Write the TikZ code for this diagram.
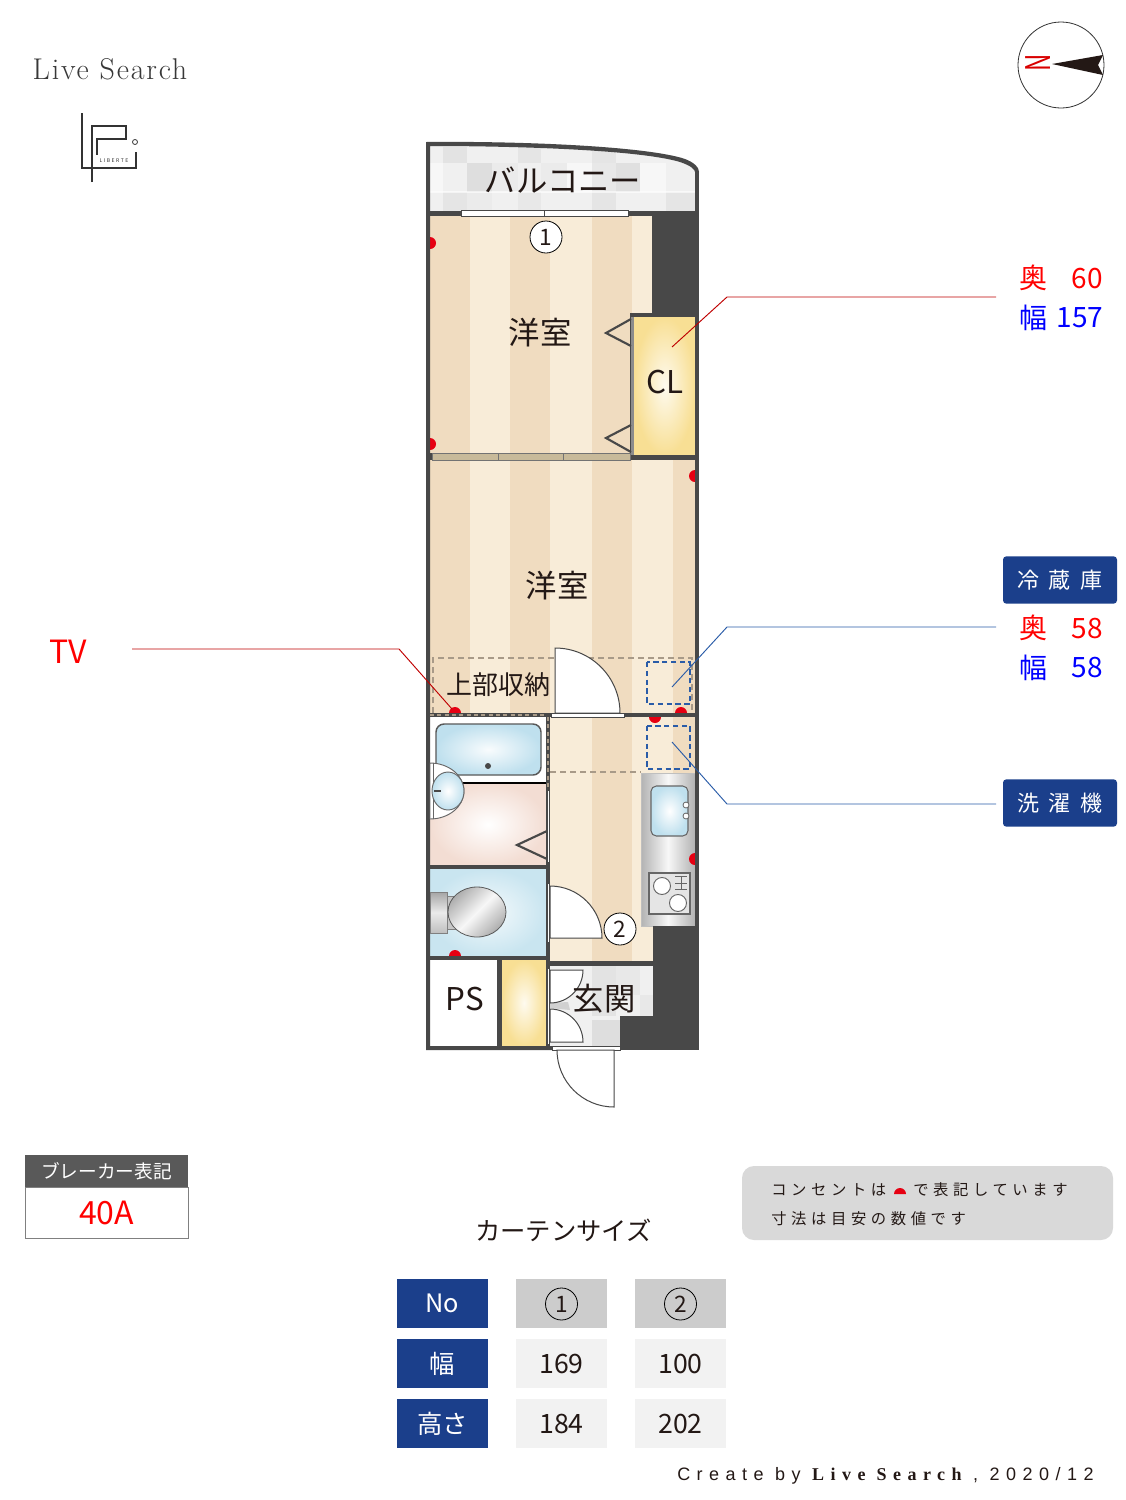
\documentclass[tikz,border=0pt]{standalone}
\usepackage{fontspec}
\setmainfont{Noto Sans CJK JP}
\newfontfamily\lmfont[LetterSpace=6]{Latin Modern Roman}
\newfontfamily\spfont[LetterSpace=30]{Noto Sans CJK JP}
\newfontfamily\spfontc[LetterSpace=45]{Noto Sans CJK JP}
\newfontfamily\footfont[LetterSpace=36]{Liberation Sans}
\newfontfamily\footserif[LetterSpace=36]{Liberation Serif}
\usetikzlibrary{calc}
\definecolor{wall}{HTML}{484848}
\definecolor{fdark}{HTML}{F0DCC0}
\definecolor{flight}{HTML}{F8ECD8}
\definecolor{navy}{HTML}{1B3F8B}
\definecolor{lblue}{HTML}{2A5CA8}
\definecolor{dashbrown}{HTML}{A89A88}
\definecolor{yel}{HTML}{F8DF94}
\definecolor{dotred}{HTML}{E60012}
\definecolor{inktext}{HTML}{231815}
\definecolor{wblue}{HTML}{BFE0EE}
\definecolor{tblue}{HTML}{C9E5F0}
\definecolor{pinkf}{HTML}{F3DDD3}
\definecolor{rail}{HTML}{C8BA9A}
\tikzset{
  lbl/.style={inner sep=0pt,text=inktext,font=\fontsize{23.5pt}{25pt}\selectfont},
  lblsm/.style={lbl,font=\fontsize{19.5pt}{21pt}\selectfont},
  num/.style={circle,draw=black,line width=0.6pt,fill=white,minimum size=24pt,inner sep=0pt,text=inktext,font=\fontsize{17pt}{18pt}\selectfont},
  numt/.style={num,fill=none},
  redtxt/.style={inner sep=0pt,text=red,font=\fontsize{21pt}{23pt}\selectfont},
  bluetxt/.style={inner sep=0pt,text=blue,font=\fontsize{21pt}{23pt}\selectfont},
  tagbox/.style={inner sep=0pt,rounded corners=2.5pt,fill=navy,text=white,minimum width=85.5pt,minimum height=35.5pt,font=\spfontc\fontsize{16.5pt}{18pt}\selectfont},
  thead/.style={inner sep=0pt,fill=navy,text=white,minimum width=68.25pt,minimum height=36.75pt,font=\fontsize{19pt}{21pt}\selectfont},
  tgrey/.style={inner sep=0pt,fill=black!20,minimum width=68.25pt,minimum height=36.75pt},
  tval/.style={inner sep=0pt,fill=black!5,text=inktext,minimum width=68.25pt,minimum height=36.75pt,font=\fontsize{20pt}{22pt}\selectfont},
  redline/.style={draw=red!75!black,line width=0.7pt},
  blueline/.style={draw=lblue,line width=0.7pt},
  swing/.style={fill=white,draw=wall,line width=0.75pt},
  opening/.style={fill=white,draw=wall,line width=0.5pt},
  vee/.style={draw=wall,line width=1.6pt,fill=none,line join=miter},
  bdash/.style={draw=dashbrown,line width=1.6pt,dash pattern=on 4.5pt off 3pt},
  fdash/.style={draw=lblue,line width=1.8pt,dash pattern=on 4pt off 2.6pt},
  metal/.style={draw=black!25,line width=0.6pt,left color=black!30,right color=black!30,middle color=black!3}
}
\newcommand{\tile}[5]{\fill[black!#5] (#1,#3) rectangle (#2,#4);}
\newcommand{\halfdot}[3]{\fill[dotred] (#1,#2) ++(#3:6) arc[start angle=#3,delta angle=180,radius=6] -- cycle;}
\begin{document}
\begin{tikzpicture}[x=0.75pt,y=-0.75pt]
\useasboundingbox (0,0) rectangle (1125,1500);
\fill[white] (0,0) rectangle (1125,1500);

% Floor stripes
\fill[flight] (430,216) rectangle (695,961);
\foreach \a/\b in {430/470,510/550,592/632,673/695}{\fill[fdark] (\a,216) rectangle (\b,961);}
\fill[white] (652,216) rectangle (699,460);

% Balcony
\begin{scope}
\clip (428,146) .. controls (520,146) and (640,150) .. (680,162) .. controls (692,166) and (695,170) .. (695,172) -- (695,212) -- (428,212) -- cycle;
\fill[black!6] (428,140) rectangle (699,212);
\tile{443}{467}{147}{163}{11}
\tile{518}{541}{147}{163}{10}
\tile{592}{616}{147}{163}{10}
\tile{467}{492}{163}{192}{13}
\tile{492}{518}{163}{192}{8}
\tile{541}{567}{163}{192}{8}
\tile{592}{616}{163}{192}{9}
\tile{616}{640}{163}{192}{12}
\tile{443}{467}{192}{211}{10}
\tile{467}{492}{192}{211}{8}
\tile{518}{541}{192}{211}{9}
\tile{592}{616}{192}{211}{10}
\tile{666}{695}{192}{211}{10}
\tile{430}{443}{163}{192}{3}
\tile{567}{592}{163}{192}{3}
\tile{640}{666}{163}{192}{3}
\fill[white,opacity=0.6] (430,191) rectangle (695,193);
\end{scope}

% Closet
\shade[inner color=yel!15,outer color=yel] (634,317) rectangle (695,455);

% Bath
\fill[white] (430,717) rectangle (546,783);
\shade[inner color=white,outer color=pinkf] (430,783) rectangle (546,866);
\draw[black,line width=0.8pt] (460,783) -- (546,783);

% Toilet room
\shade[inner color=white!80!tblue,outer color=tblue] (430,869) rectangle (546,956);

% PS and cabinet
\fill[white] (430,960) rectangle (497,1046);
\shade[inner color=yel!15,outer color=yel] (502,960) rectangle (546,1046);

% Kitchen
\path[metal] (641,773) rectangle (695,926);

% Genkan
\fill[black!6] (550,966) rectangle (653,1016);
\fill[black!6] (550,1016) rectangle (620,1046);
\tile{592}{616}{966}{1016}{11}
\tile{616}{640}{966}{995}{9}
\tile{640}{653}{995}{1016}{9}
\tile{592}{620}{1020}{1046}{13}
\fill[black!18] (550,1003) -- (568,1002) -- (570,1010) -- (550,1008) -- cycle;

% Outlets, each showing as a half disc against a wall
\halfdot{430}{243}{-90}
\halfdot{430}{444}{-90}
\halfdot{695}{476}{90}
\halfdot{455}{713}{180}
\halfdot{681}{713}{180}
\halfdot{655}{717}{0}
\halfdot{695}{859}{90}
\halfdot{455}{956}{180}

% Walls
\fill[wall] (426,142) .. controls (520,141) and (640,146) .. (682,158) .. controls (695,162) and (699,168) .. (699,172) -- (695,172) .. controls (695,170) and (692,166) .. (680,162) .. controls (640,150) and (520,146) .. (430,146) -- (430,1046) -- (552,1046) -- (552,1050) -- (426,1050) -- cycle;
\fill[wall] (695,172) rectangle (699,1050);
\fill[wall] (430,211) rectangle (699,216);
\fill[wall] (652,216) rectangle (699,317);
\fill[wall] (630,313) rectangle (699,317);
\fill[wall] (630,455) rectangle (699,460);
\fill[wall] (430,453) rectangle (632,460);
\fill[wall] (430,713) rectangle (695,717);
\fill[wall] (546,717) rectangle (550,1046);
\fill[wall] (430,865) rectangle (550,869);
\fill[wall] (430,956) rectangle (550,960);
\fill[wall] (497,960) rectangle (502,1046);
\fill[wall] (550,961) rectangle (653,966);
\fill[wall] (653,926) rectangle (699,1050);
\fill[wall] (620,1016) rectangle (699,1050);
\draw[dashbrown,line width=1.2pt,dash pattern=on 3pt off 2.5pt] (430,715) -- (546,715);
\draw[dashbrown,line width=1.2pt,dash pattern=on 3pt off 2.5pt] (548,717) -- (548,790);

% Dashed outlines
\draw[bdash] (433,713) -- (433,658) -- (692,658) -- (692,713);
\draw[bdash] (550,772) -- (641,772);
\draw[fdash] (647,662) rectangle (690,704);
\draw[fdash] (647,726) rectangle (690,769);

% Window and sliding doors
\path[opening] (461,210) rectangle (628,216);
\draw[wall,line width=0.5pt] (544,210) -- (544,216);
\fill[black!45] (631,317) rectangle (634,455);
\fill[wall] (630,317) rectangle (631,455);
\path[draw=black!55,fill=rail,line width=0.4pt] (432,453.5) rectangle (630,460.5);
\draw[black!55,line width=0.5pt] (498,453.5) -- (498,460.5) (563,453.5) -- (563,460.5);
\draw[vee] (631,319) -- (606,333) -- (631,346);
\draw[vee] (631,425) -- (606,438) -- (631,452);
\draw[vee] (547,831) -- (517,845) -- (547,859);

% Doors
\path[swing] (555,713) -- (555,648) arc[start angle=-90,end angle=0,radius=65] -- cycle;
\path[opening] (551,713) rectangle (624,717);
\path[opening] (547,790) rectangle (549,862);
\path[opening] (547,883) rectangle (549,942);
\path[swing] (550,938) -- (550,886) arc[start angle=-90,end angle=0,radius=52] -- cycle;
\path[opening] (547,968) rectangle (549,1044);
\path[swing] (550,970) -- (583,970) arc[start angle=0,end angle=90,radius=33] -- cycle;
\path[swing] (550,1042) -- (550,1009) arc[start angle=-90,end angle=0,radius=33] -- cycle;
\path[opening] (552,1046) rectangle (620,1050);
\path[swing] (614,1050) -- (614,1107) arc[start angle=90,end angle=180,radius=57] -- cycle;

% Bath fittings
\path[draw=black!65,line width=1.1pt,rounded corners=6pt,inner color=white!90!wblue,outer color=wblue] (436,724) rectangle (541,775);
\fill[wall] (488,766) circle[radius=3];
\path[draw=black!60,fill=white,line width=0.7pt] (430,763) arc[start angle=-90,end angle=90,x radius=34,y radius=28] -- cycle;
\draw[black!60,line width=0.6pt] (433,763) -- (433,819);
\path[draw=black!60,line width=0.7pt,inner color=white,outer color=wblue] (448,791) ellipse[x radius=16,y radius=19];
\draw[wall,line width=0.9pt] (434,791) -- (441,791);

% Toilet
\path[draw=black!50,line width=0.5pt,top color=black!35,bottom color=black!25,middle color=black!8] (430,892) rectangle (447,933);
\path[draw=black!50,line width=0.5pt,fill=black!22] (447,896) -- (456,896) -- (456,929) -- (447,929) -- cycle;
\path[draw=black!65,line width=0.6pt,left color=black!32,right color=black!32,middle color=black!3,shading angle=45] (477,912) ellipse[x radius=29,y radius=25];

% Kitchen fittings
\path[draw=black!60,line width=0.8pt,rounded corners=4pt,inner color=white,outer color=wblue] (651,786) rectangle (688,836);
\draw[black!60,fill=white,line width=0.6pt] (686,805) circle[radius=3] (686,816) circle[radius=3];
\path[draw=black!60,fill=black!10,line width=0.8pt] (649,873) rectangle (690,914);
\draw[black!60,fill=white,line width=0.7pt] (662,886) circle[radius=8.5] (678,903) circle[radius=8.5];
\draw[black!60,line width=0.6pt] (675,876) -- (687,876) (675,883) -- (687,883) (675,889) -- (687,889) (681,876) -- (681,889);

% Room labels
\node[lbl] (balcony) at (563,180) {バルコニー};
\node[lbl] (roomA) at (540,333) {洋室};
\node[lbl] (cl) at (665,382) {CL};
\node[lbl] (roomB) at (557,586) {洋室};
\node[lblsm] (upper) at (498,685) {上部収納};
\node[lbl] (ps) at (465,999) {PS};
\node[lbl] (genkan) at (604,999) {玄関};
\node[num] (mA) at (546,237) {1};
\node[num] (mB) at (620,929) {2};

% Connectors
\coordinate (clEnd) at (672,347);
\coordinate (clBend) at (727,297);
\coordinate (clTail) at (996,297);
\draw[redline] (clEnd) -- (clBend) -- (clTail);
\coordinate (frEnd) at (672,687);
\coordinate (frBend) at (727,627);
\coordinate (frTail) at (996,627);
\draw[blueline] (frEnd) -- (frBend) -- (frTail);
\coordinate (wmEnd) at (672,742);
\coordinate (wmBend) at (727,804);
\coordinate (wmTail) at (996,804);
\draw[blueline] (wmEnd) -- (wmBend) -- (wmTail);
\coordinate (tvEnd) at (452,709);
\coordinate (tvBend) at (399,649);
\coordinate (tvTail) at (132,649);
\draw[redline] (tvTail) -- (tvBend) -- (tvEnd);

% Right labels
\node[redtxt] (okuA) at (1033,278) {奥};
\node[redtxt] (okuAv) at (1087,279) {60};
\node[bluetxt] (habaA) at (1033,318) {幅};
\node[bluetxt] (habaAv) at (1080,318) {157};
\node[tagbox] (fridge) at (1060,580) {冷蔵庫};
\node[redtxt] (okuB) at (1033,628) {奥};
\node[redtxt] (okuBv) at (1087,629) {58};
\node[bluetxt] (habaB) at (1033,668) {幅};
\node[bluetxt] (habaBv) at (1087,668) {58};
\node[tagbox] (washer) at (1060,803) {洗濯機};
\node[redtxt,font=\fontsize{24pt}{26pt}\selectfont] (tv) at (68,652) {TV};

% Logo and title
\node[inner sep=0pt,text=black!78,font=\lmfont\fontsize{22.5pt}{24pt}\selectfont] (brand) at (110,69) {Live Search};
\draw[black!80,line width=0.8pt] (82,113) -- (82,168) -- (136,168) -- (136,152);
\draw[black!80,line width=0.8pt] (92,182) -- (92,126) -- (126,126) -- (126,139) -- (97,139) -- (97,155);
\draw[black!80,line width=0.6pt] (135,142) circle[radius=2.5];
\node[inner sep=0pt,text=black!80,font=\spfont\fontsize{3.8pt}{4pt}\selectfont] (liberte) at (114,161) {LIBERTE};

% Compass
\draw[black!80,line width=0.6pt] (1061,65) circle[radius=43];
\fill[inktext] (1052,64) -- (1103,55) -- (1098,65) -- (1103,75) -- cycle;
\node[inner sep=0pt,rotate=90,text=red!85!black,font=\fontsize{25pt}{27pt}\selectfont] (north) at (1038.5,63) {\scalebox{0.72}[1.02]{N}};

% Breaker
\node[inner sep=0pt,fill=black!65,text=white,minimum width=122.25pt,minimum height=24pt,font=\fontsize{14pt}{15pt}\selectfont] (brkHead) at (106.5,1171) {ブレーカー表記};
\node[inner sep=0pt,draw=black!50,line width=0.5pt,fill=white,minimum width=122.25pt,minimum height=38pt,text=red,font=\fontsize{24pt}{26pt}\selectfont] (brkVal) at (106.5,1213) {40A};

% Note
\fill[black!15,rounded corners=9pt] (742,1166) rectangle (1113,1240);
\node[inner sep=0pt,anchor=west,text=inktext,font=\spfont\fontsize{11.5pt}{13pt}\selectfont] (noteA) at (771,1190) {コンセントは};
\fill[dotred] (894,1194) arc[start angle=180,end angle=360,radius=6] -- cycle;
\node[inner sep=0pt,anchor=west,text=inktext,font=\spfont\fontsize{11.5pt}{13pt}\selectfont] (noteB) at (913,1190) {で表記しています};
\node[inner sep=0pt,anchor=west,text=inktext,font=\spfont\fontsize{11.5pt}{13pt}\selectfont] (noteC) at (771,1219) {寸法は目安の数値です};

% Curtain table
\node[inner sep=0pt,text=inktext,font=\fontsize{19pt}{21pt}\selectfont] (ctitle) at (563.5,1230) {カーテンサイズ};
\node[thead] (h1) at (442.5,1303.5) {No};
\node[thead] (h2) at (442.5,1363.5) {幅};
\node[thead] (h3) at (442.5,1423.5) {高さ};
\node[tgrey] (a1) at (561.5,1303.5) {};
\node[tgrey] (b1) at (680.5,1303.5) {};
\node[numt] (a1n) at (561.5,1304) {1};
\node[numt] (b1n) at (680.5,1304) {2};
\node[tval] (a2) at (561.5,1363.5) {169};
\node[tval] (b2) at (680.5,1363.5) {100};
\node[tval] (a3) at (561.5,1423.5) {184};
\node[tval] (b3) at (680.5,1423.5) {202};

% Footer
\node[inner sep=0pt,anchor=west,text=inktext,font=\footfont\fontsize{13.5pt}{15pt}\selectfont] (foot) at (677,1476) {Create by {\footserif\bfseries Live Search} , 2020/12};
\end{tikzpicture}
\end{document}
